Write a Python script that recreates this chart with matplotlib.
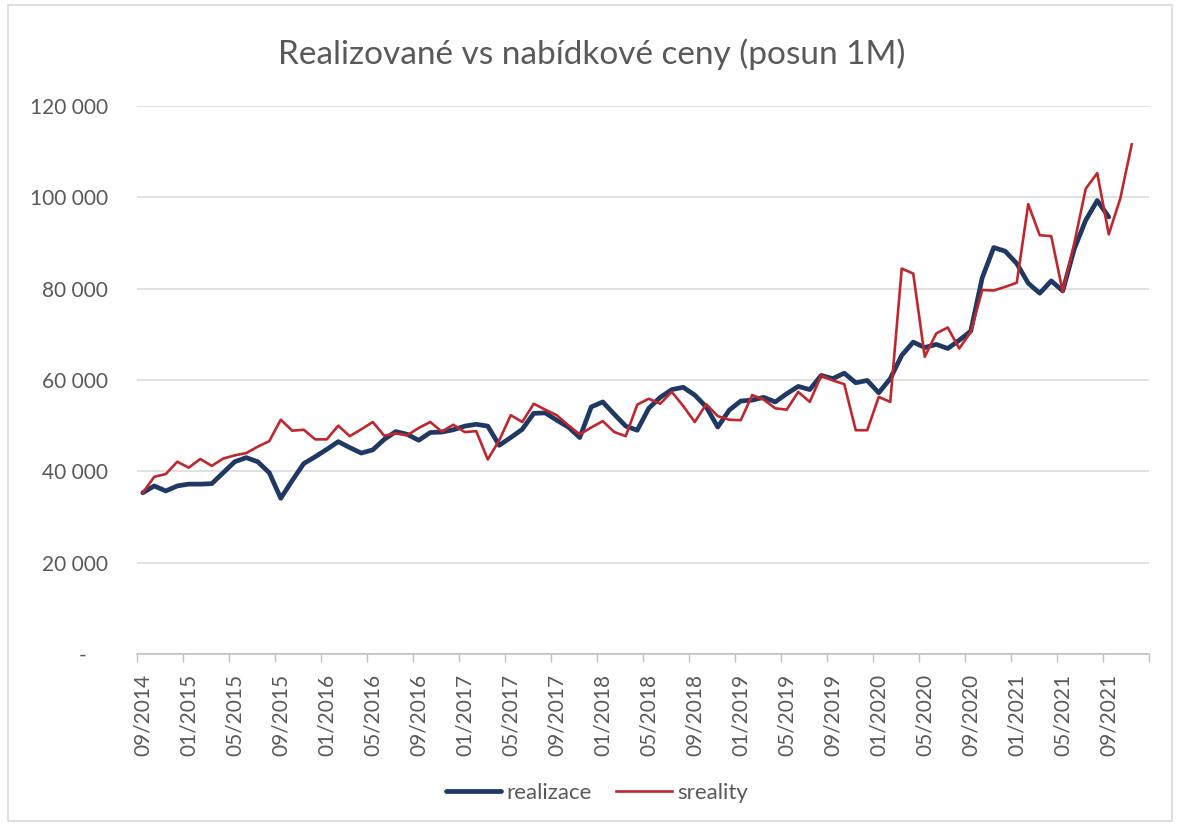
import numpy as np
import matplotlib
matplotlib.use("Agg")
import matplotlib.pyplot as plt
from matplotlib.patches import Rectangle

# monthly values starting 09/2014
realizace = [35300, 36800, 35700, 36800, 37200, 37200, 37300, 39700, 42100, 43000,
             42100, 39700, 34100, 38000, 41700, 43200, 44800, 46500, 45200, 44000,
             44700, 47000, 48700, 48100, 46800, 48500, 48600, 49100, 49900, 50300,
             49900, 45700, 47400, 49200, 52700, 52800, 51200, 49700, 47400, 54100,
             55200, 52500, 49900, 49000, 53800, 56200, 57900, 58400, 56700, 54100,
             49700, 53400, 55400, 55600, 56200, 55200, 57000, 58600, 57900, 61000,
             60300, 61500, 59400, 59900, 57200, 60300, 65400, 68300, 67100, 67800,
             66900, 68700, 70700, 82400, 89000, 88200, 85500, 81200, 79000, 81700,
             79500, 88700, 95000, 99300, 95700]

sreality = [35300, 38800, 39400, 42100, 40800, 42700, 41200, 42800, 43500, 44000,
            45400, 46600, 51300, 48900, 49100, 47000, 47000, 50000, 47700, 49200,
            50800, 47800, 48300, 47900, 49500, 50800, 48700, 50200, 48600, 48800,
            42600, 46800, 52300, 50800, 54800, 53500, 52300, 50100, 48100, 49600,
            51000, 48600, 47700, 54600, 55900, 54800, 57400, 54300, 50800, 54700,
            52100, 51300, 51200, 56700, 55700, 53800, 53500, 57400, 55200, 61000,
            59900, 59100, 49000, 49000, 56300, 55200, 84400, 83300, 65100, 70200,
            71500, 66900, 70500, 79700, 79600, 80400, 81300, 98500, 91700, 91500,
            79300, 89900, 101900, 105300, 91900, 99700, 111600]

n_months = 88
tick_labels = ["09/2014", "01/2015", "05/2015", "09/2015", "01/2016", "05/2016",
               "09/2016", "01/2017", "05/2017", "09/2017", "01/2018", "05/2018",
               "09/2018", "01/2019", "05/2019", "09/2019", "01/2020", "05/2020",
               "09/2020", "01/2021", "05/2021", "09/2021"]
y_ticks = [0, 20000, 40000, 60000, 80000, 100000, 120000]
y_labels = ["-    ", "20 000", "40 000", "60 000", "80 000", "100 000", "120 000"]

txt = "#595959"
grid = "#d9d9d9"
plt.rcParams["font.family"] = ["Lato", "DejaVu Sans"]

fig = plt.figure(figsize=(11.77, 8.25), dpi=100)
fig.patches.append(Rectangle((8 / 1177, 4 / 825), 1164 / 1177, 816 / 825,
                             transform=fig.transFigure, fill=False,
                             edgecolor=grid, linewidth=1.2))
ax = fig.add_axes([137 / 1177, 1 - 654 / 825, 1012 / 1177, 548 / 825])

ax.plot(np.arange(len(realizace)), realizace, color="#1f3864", lw=3.4,
        solid_joinstyle="round", solid_capstyle="round", label="realizace", zorder=3)
ax.plot(np.arange(len(sreality)), sreality, color="#c0272d", lw=1.9,
        solid_joinstyle="round", label="sreality", zorder=4)

ax.set_xlim(-0.5, n_months - 0.5)
ax.set_ylim(0, 120000)
ax.set_yticks(y_ticks)
ax.set_yticklabels(y_labels, color=txt, fontsize=15)
ax.tick_params(axis="y", length=0, pad=21)
ax.grid(axis="y", color=grid, lw=1.1)
ax.set_axisbelow(True)

ax.set_xticks(np.arange(0, 4 * len(tick_labels), 4))
ax.set_xticklabels(tick_labels, rotation=90, color=txt, fontsize=15)
ax.set_xticks(np.arange(-0.5, n_months, 4), minor=True)
ax.tick_params(axis="x", which="major", length=0, pad=14.5)
ax.tick_params(axis="x", which="minor", length=6, color="#bfbfbf", width=1)

for s in ["top", "right", "left"]:
    ax.spines[s].set_visible(False)
ax.spines["bottom"].set_color("#bfbfbf")
ax.spines["bottom"].set_linewidth(1.1)

fig.text(592 / 1177, 1 - 63.5 / 825, "Realizované vs nabídkové ceny (posun 1M)",
         ha="center", va="baseline", fontsize=24, color=txt)

leg = fig.legend(loc="center", bbox_to_anchor=(597 / 1177, 1 - 793 / 825), ncol=2,
                 frameon=False, fontsize=16, handlelength=2.5, handletextpad=0.25,
                 columnspacing=1.1, labelcolor=txt)

fig.savefig("out.png", dpi=100)
